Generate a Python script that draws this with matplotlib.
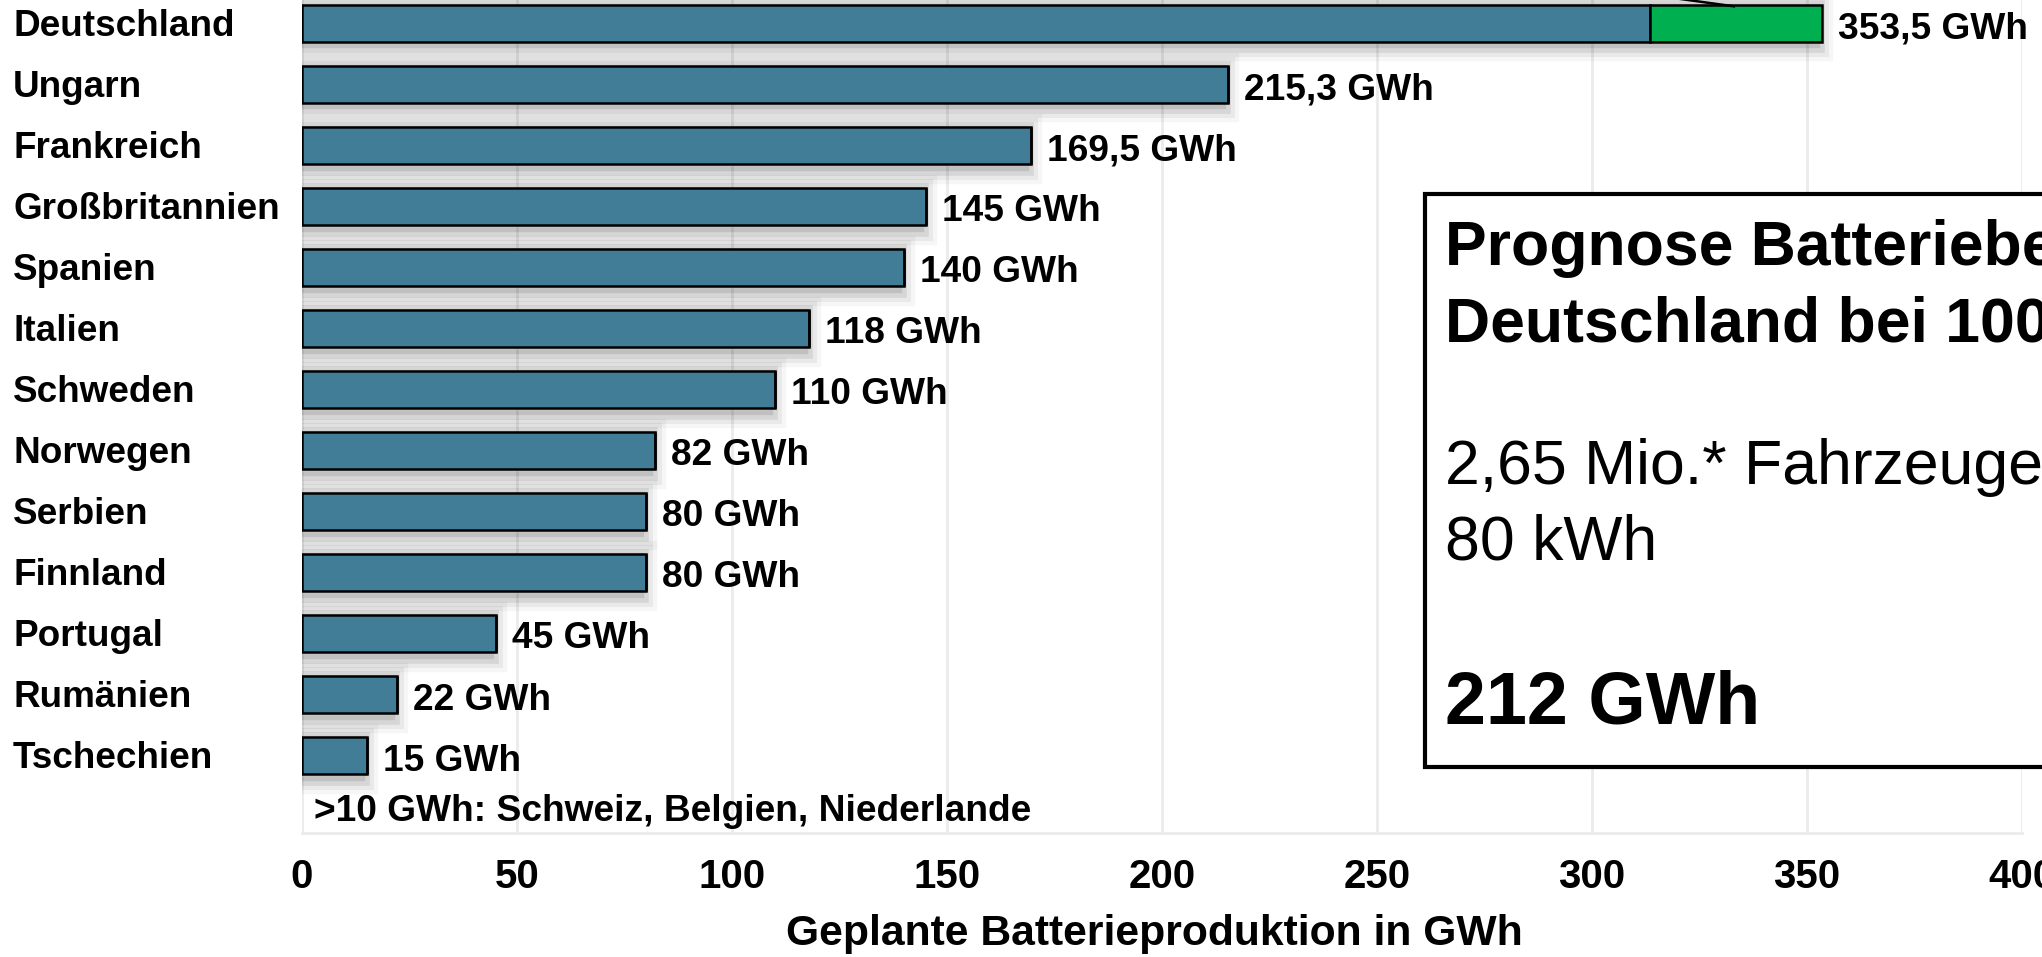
import matplotlib
matplotlib.use("Agg")
from matplotlib import pyplot as plt
from matplotlib import patheffects as pe
from matplotlib import transforms
from matplotlib.patches import Rectangle

plt.rcParams['font.family'] = ['Liberation Sans', 'DejaVu Sans']

laender = ["Deutschland", "Ungarn", "Frankreich", "Großbritannien", "Spanien",
           "Italien", "Schweden", "Norwegen", "Serbien", "Finnland",
           "Portugal", "Rumänien", "Tschechien"]
gwh = [313.5, 215.3, 169.5, 145, 140, 118, 110, 82, 80, 80, 45, 22, 15]
gwh_zusatz = [40.0] + [0] * 12
beschriftung = ["353,5 GWh", "215,3 GWh", "169,5 GWh", "145 GWh", "140 GWh",
                "118 GWh", "110 GWh", "82 GWh", "80 GWh", "80 GWh",
                "45 GWh", "22 GWh", "15 GWh"]
xticks = [0, 50, 100, 150, 200, 250, 300, 350, 400]

W, H, DPI = 2042, 957, 100
fig = plt.figure(figsize=(W / DPI, H / DPI), dpi=DPI)


def fx(px):
    return px / W


def fy(py):
    return 1 - py / H


# axes sit a little above the top edge, so the figure shows a cut-out
ax = fig.add_axes([fx(302), fy(833), fx(2022) - fx(302), fy(-25.4) - fy(833)])
ax.set_xlim(0, 400)
ax.set_ylim(13.27, -0.8)

blau = "#417D96"
gruen = "#00B050"
schatten = [pe.Stroke(linewidth=lw, foreground="black", alpha=a, offset=(-4, -2))
            for lw, a in [(24, 0.035), (18, 0.05), (12, 0.08), (6, 0.1)]] + [pe.Normal()]

pos = list(range(len(laender)))
# soft shadow under the bars
ax.barh(pos, [g + z for g, z in zip(gwh, gwh_zusatz)], height=0.6, color="white",
        edgecolor="none", path_effects=schatten, zorder=2)
ax.barh(pos, gwh, height=0.6, color=blau, edgecolor="black", linewidth=1.8, zorder=3)
ax.barh(pos, gwh_zusatz, left=gwh, height=0.6, color=gruen, edgecolor="black",
        linewidth=1.8, zorder=3)

ax.set_xticks(xticks)
ax.set_xticklabels([str(t) for t in xticks], fontsize=29, fontweight="bold")
ax.tick_params(axis="x", length=0, pad=18)
ax.set_yticks([])
ax.grid(axis="x", color="#EBEBEB", linewidth=2, zorder=0)
ax.set_axisbelow(True)
for s in ["top", "right", "left"]:
    ax.spines[s].set_visible(False)
ax.spines["bottom"].set_color("#EBEBEB")
ax.spines["bottom"].set_linewidth(2)

# country names, left aligned at the figure edge
blend = transforms.blended_transform_factory(fig.transFigure, ax.transData)
for i, name in enumerate(laender):
    off = transforms.ScaledTranslation(0, -12.5 / DPI, fig.dpi_scale_trans)
    ax.text(fx(13), i, name, transform=blend + off, fontsize=26.6, fontweight="bold",
            ha="left", va="baseline", clip_on=False)

# value labels right of each bar
for i, (g, z, txt) in enumerate(zip(gwh, gwh_zusatz, beschriftung)):
    off = transforms.ScaledTranslation(16 / DPI, -15 / DPI, fig.dpi_scale_trans)
    ax.text(g + z, i, txt, transform=ax.transData + off, fontsize=26.7,
            fontweight="bold", ha="left", va="baseline", clip_on=False)

ax.text(2.8, 12.91, ">10 GWh: Schweiz, Belgien, Niederlande", fontsize=26.7,
        fontweight="bold", ha="left", va="center")

# connector line leaving the top of the green segment
ax.plot([333, 300], [-0.28, -0.6], color="black", linewidth=1.8, clip_on=False, zorder=4)

fig.text(fx(1154), fy(934), "Geplante Batterieproduktion in GWh", fontsize=30.7,
         fontweight="bold", ha="center", va="center")

# info box on the right
box = Rectangle((fx(1425), fy(767)), fx(2400) - fx(1425), fy(194) - fy(767),
                transform=fig.transFigure, facecolor="white", edgecolor="black",
                linewidth=3, zorder=10)
fig.add_artist(box)
fig.text(fx(1445), fy(265), "Prognose Batteriebedarf", fontsize=45,
         fontweight="bold", ha="left", va="baseline", zorder=11)
fig.text(fx(1445), fy(342), "Deutschland bei 100 % E-Autos", fontsize=45,
         fontweight="bold", ha="left", va="baseline", zorder=11)
fig.text(fx(1445), fy(484), "2,65 Mio.* Fahrzeuge x", fontsize=45,
         ha="left", va="baseline", zorder=11)
fig.text(fx(1445), fy(560), "80 kWh", fontsize=45, ha="left", va="baseline", zorder=11)
fig.text(fx(1445), fy(723), "212 GWh", fontsize=53, fontweight="bold",
         ha="left", va="baseline", zorder=11)

fig.savefig("out.png", dpi=DPI)
